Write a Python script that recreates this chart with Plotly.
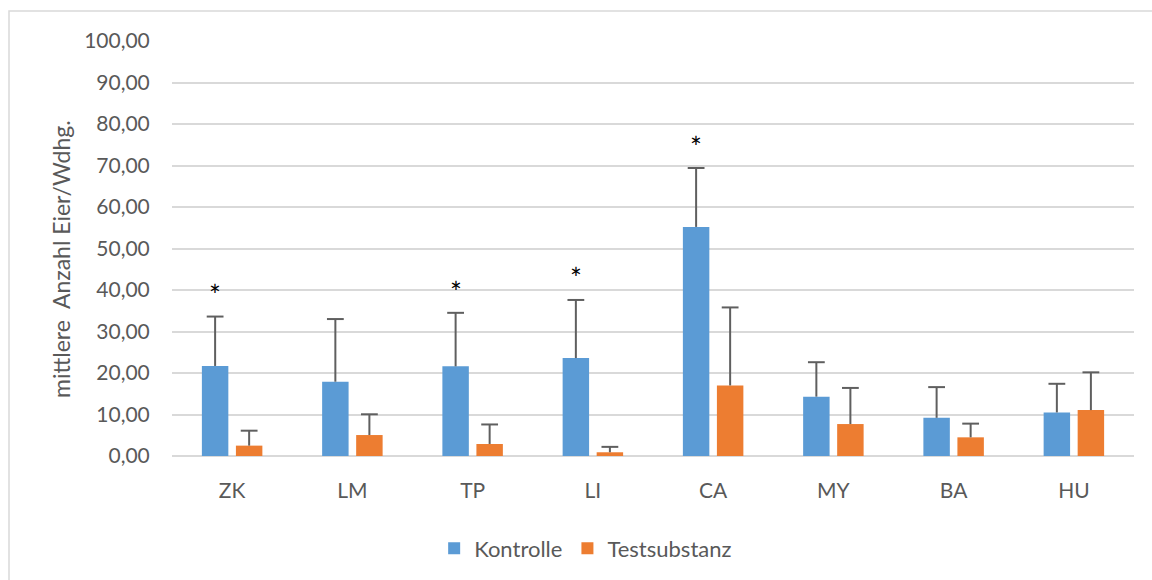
import plotly.graph_objects as go

# Versuchsgruppen und Mittelwerte (Eier je Wiederholung)
kategorien = ["ZK", "LM", "TP", "LI", "CA", "MY", "BA", "HU"]
kontrolle = [21.7, 17.9, 21.6, 23.6, 55.2, 14.3, 9.2, 10.5]
kontrolle_fehler = [11.9, 15.1, 12.9, 14.0, 14.2, 8.3, 7.4, 6.9]
testsubstanz = [2.5, 5.05, 2.9, 0.9, 17.0, 7.7, 4.5, 11.06]
testsubstanz_fehler = [3.6, 5.0, 4.7, 1.3, 18.8, 8.7, 3.3, 9.1]

# Signifikanzmarken über den Kontrollbalken
stern_gruppen = ["ZK", "TP", "LI", "CA"]
stern_hoehe = [39.9, 40.7, 44.2, 75.7]

y_ticks = [0, 10, 20, 30, 40, 50, 60, 70, 80, 90, 100]

BLAU = "#5B9BD5"
ORANGE = "#ED7D31"
GRAU_TEXT = "#595959"
GRAU_LINIE = "#D9D9D9"
FEHLER_FARBE = "#5f5f5f"
FONT = "Lato"

# Balkengeometrie in Kategorie-Einheiten
BALKEN_BREITE = 0.22
BALKEN_ABSTAND = 0.063
versatz = (BALKEN_BREITE + BALKEN_ABSTAND) / 2
pos = list(range(len(kategorien)))

fig = go.Figure()


def serie(name, werte, fehler, farbe, dx):
    xs = [p + dx for p in pos]
    fig.add_trace(go.Bar(
        name=name, x=xs, y=werte, width=BALKEN_BREITE,
        marker=dict(color=farbe, line=dict(width=0)),
        error_y=dict(type="data", symmetric=False, array=fehler,
                     arrayminus=[0] * len(werte), color=FEHLER_FARBE,
                     thickness=2, width=0),
    ))
    # Querstrich am oberen Ende des Fehlerbalkens
    fig.add_trace(go.Scatter(
        x=xs, y=[w + f for w, f in zip(werte, fehler)], mode="markers",
        marker=dict(symbol="line-ew", size=12,
                    line=dict(color=FEHLER_FARBE, width=2)),
        showlegend=False, hoverinfo="skip",
    ))


serie("Kontrolle", kontrolle, kontrolle_fehler, BLAU, -versatz)
serie("Testsubstanz", testsubstanz, testsubstanz_fehler, ORANGE, versatz)

for g, h in zip(stern_gruppen, stern_hoehe):
    fig.add_annotation(x=kategorien.index(g) - versatz, y=h, text="*",
                       showarrow=False, xref="x", yref="y",
                       yshift=-5, yanchor="middle",
                       font=dict(family=FONT, size=28, color="#000000"))

plot_l, plot_r, plot_t, plot_b = 172, 1134, 41, 457
pw, ph = plot_r - plot_l, plot_b - plot_t

# y-Achsentitel
fig.add_annotation(text="mittlere  Anzahl Eier/Wdhg.", textangle=-90,
                   xref="paper", yref="paper",
                   x=(61 - plot_l) / pw, y=0.475,
                   xanchor="center", yanchor="middle", showarrow=False,
                   font=dict(family=FONT, size=23, color=GRAU_TEXT))

# Rahmen des Diagrammbereichs
fig.add_shape(type="rect", xref="paper", yref="paper",
              x0=(9 - plot_l) / pw, x1=(1160 - plot_l) / pw,
              y0=(plot_b - 600) / ph, y1=1 + (plot_t - 11) / ph,
              line=dict(color=GRAU_LINIE, width=1.5), fillcolor="rgba(0,0,0,0)",
              layer="below")

fig.update_layout(
    width=1152, height=580,
    margin=dict(l=plot_l, r=1152 - plot_r, t=plot_t, b=580 - plot_b),
    paper_bgcolor="white", plot_bgcolor="white",
    barmode="overlay",
    separators=",.",
    font=dict(family=FONT, size=19, color=GRAU_TEXT),
    showlegend=True,
    legend=dict(orientation="h", x=0.43, y=-0.22, xanchor="center",
                yanchor="middle", font=dict(family=FONT, size=22, color=GRAU_TEXT),
                itemwidth=30, tracegroupgap=0),
    xaxis=dict(range=[-0.5, len(kategorien) - 0.5], tickvals=pos,
               ticktext=kategorien, showgrid=False, showline=False,
               ticks="", zeroline=False, ticklabelstandoff=20,
               tickfont=dict(family=FONT, size=21, color=GRAU_TEXT)),
    yaxis=dict(range=[0, 100], tickvals=y_ticks, tickformat=".2f",
               showgrid=True, gridcolor=GRAU_LINIE, gridwidth=1.5,
               zeroline=True, zerolinecolor=GRAU_LINIE, zerolinewidth=1.5,
               showline=False, ticks="outside", ticklen=17,
               tickcolor="rgba(0,0,0,0)",
               tickfont=dict(family=FONT, size=21, color=GRAU_TEXT)),
)

fig.write_html("out.html")
